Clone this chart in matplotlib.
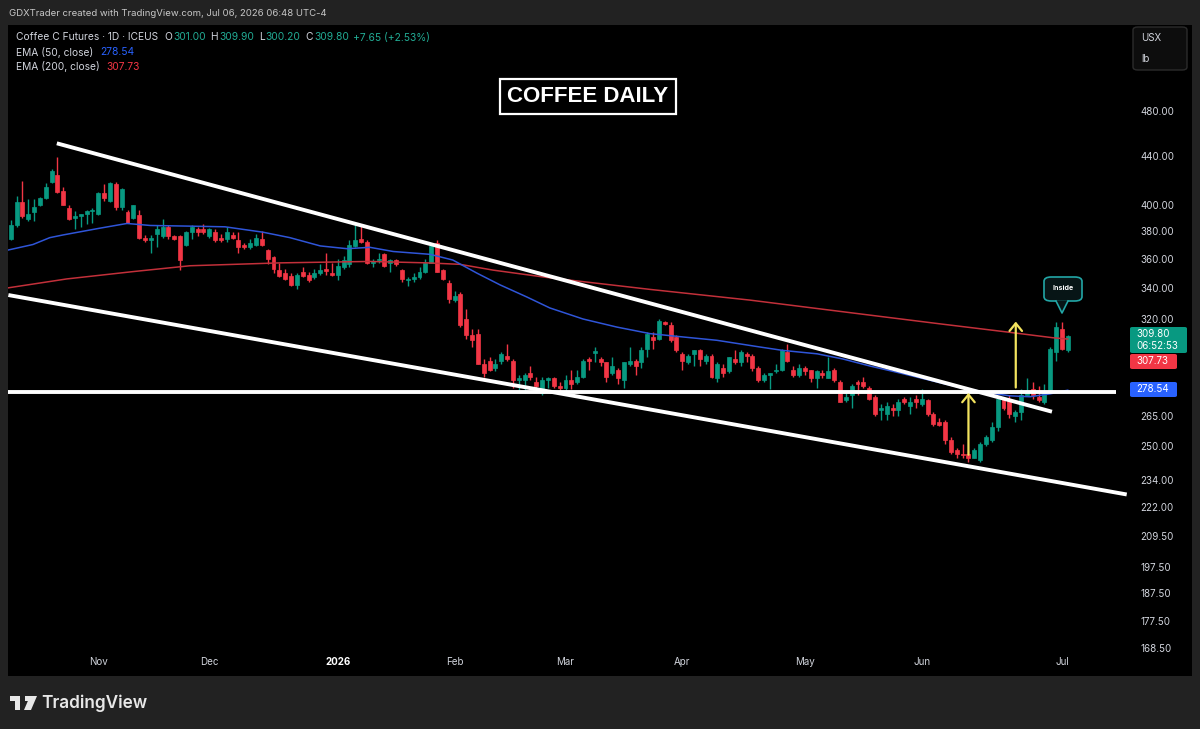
import matplotlib
matplotlib.use('Agg')
import matplotlib.pyplot as plt
from matplotlib.patches import FancyBboxPatch, Rectangle, Polygon
from matplotlib.lines import Line2D
import math

W, H = 1200, 729

# ---------------- data (Coffee C Futures, 1D) ----------------
opens = [374, 384, 402, 389, 394, 400, 405, 418, 424, 411, 397, 389.5, 391, 393, 395, 393, 409, 403, 416, 398,
         394, 390, 392, 375, 373, 378, 376, 383, 376, 376, 370, 379, 381, 381, 376, 379, 375, 374, 377, 373,
         370, 368, 370, 374, 366, 361, 352, 350, 348, 342, 351, 349, 347, 350, 352.5, 350, 349, 354, 356, 369,
         374, 372, 357, 359, 363, 357, 359, 352, 345, 346, 347, 351, 357, 371, 352, 343, 332, 336, 320, 310,
         311, 293, 295, 291, 295, 298, 295, 284, 284, 288, 283, 277, 284, 285, 281, 280, 284, 283, 286, 296,
         299.5, 296, 294, 288, 290, 284, 293, 295, 294, 302, 309, 308, 318, 316, 309, 299, 294, 299, 301, 295,
         298, 285, 291, 289, 296, 294, 299, 298, 291, 284, 287, 289, 290, 300, 290, 287, 291, 290, 285, 288,
         285, 290, 283, 273, 276, 283, 283, 280, 275, 268, 266, 269, 268, 274, 270, 274, 271, 273, 266, 262,
         262, 253, 248, 246, 246, 244, 243, 251, 253, 259, 274, 273, 265, 267, 276, 279, 275, 272, 278, 300,
         314, 301]
highs = [388, 407, 419, 404, 404, 406, 417, 429, 439, 414, 400, 395, 393, 396, 397, 410, 416, 418, 418, 413,
         396, 400, 396, 377, 377, 384, 389, 384, 377, 377, 380, 384, 383, 385, 382, 381, 378, 383, 379, 379,
         371, 374, 378, 380, 367, 362, 357, 353, 350, 350, 354, 351, 353, 356, 364, 357, 360, 362, 373, 385,
         384, 373, 360, 364, 364, 360, 360, 353, 347, 350, 354, 360, 371, 373, 353, 345, 338, 337, 326, 314,
         314, 296, 297, 296, 300, 305, 296, 287, 288, 292, 286, 286, 286, 286, 283, 287, 290, 290, 296, 297,
         303, 297, 294, 297, 291, 294, 303, 296, 303, 312, 312, 320, 319, 318, 310, 300, 299, 301, 302, 299,
         299, 294, 293, 297, 301, 301, 300, 299, 292, 288, 288, 293, 302, 305, 292, 293, 292, 290, 290, 290,
         297, 291, 284, 277, 282, 284, 286, 281, 276, 271, 272, 271, 274, 275, 275, 276, 279, 274, 267, 264,
         263, 254, 249, 251, 248, 249, 252, 255, 262, 275, 275, 276, 268, 279, 285, 283, 281, 282, 303, 318,
         318, 309.9]
lows = [373, 383, 390, 387, 387, 399, 404, 417, 409, 400, 388, 381, 383, 385, 386, 392, 403, 402, 396, 396,
        386, 389, 374, 372, 364, 368, 375, 374, 373, 352, 369, 374, 376, 378, 375, 372, 372, 372, 374, 364,
        367, 367, 369, 369, 356, 350, 347, 345, 341, 339, 347, 344, 346, 349, 349, 348, 345, 353, 354, 368,
        371, 356, 354, 357, 354, 351, 355, 344, 341, 344, 346, 350, 357, 351, 345, 330, 331, 315, 308, 303,
        293, 286, 289, 289, 293, 295, 280, 278, 277, 284, 280, 276, 280, 280, 277, 278, 279, 282, 285, 290,
        294, 292, 283, 287, 282, 280, 292, 287, 291, 297, 302, 307, 316, 306, 300, 290, 293, 292, 292, 293,
        285, 283, 286, 288, 293, 292, 294, 289, 283, 283, 279, 288, 289, 294, 286, 286, 287, 283, 280, 285,
        285, 283, 272, 272, 269, 276, 280, 273, 265, 263, 263, 265, 265, 271, 266, 269, 270, 265, 260, 260,
        251, 246, 244, 244, 242, 244, 242, 250, 252, 257, 268, 264, 262, 263, 276, 274, 272, 271, 277, 295,
        301, 300.2]
closes = [384, 402, 391, 393, 398, 405, 414, 427, 410, 400, 389, 391, 393, 395, 396, 409, 405, 417, 398, 412,
          386, 400, 375, 373, 375, 381, 383, 376, 374, 359, 379, 383, 379, 379, 381, 373, 373, 379, 375, 368,
          368, 371, 375, 370, 360, 353, 348, 346, 342, 349, 348, 345, 350, 352, 351.5, 349, 355, 359, 370, 373,
          372, 357, 358, 360, 355, 359, 356, 346, 346, 347, 351, 357, 369, 351, 346, 333, 335, 316, 310, 307,
          293, 288, 290, 293, 299, 296, 284, 285, 287, 286, 281, 284, 285, 281, 280, 284, 282, 286, 295, 295,
          300.5, 294, 286, 292, 285, 294, 295, 292, 301, 311, 307, 319, 317, 307, 301, 295, 298, 301, 296, 298,
          286, 293, 288, 297, 294, 300, 298, 291, 284, 287, 288, 290, 301, 295, 287, 291, 289, 285, 289, 287,
          289, 284, 272, 275, 281, 282, 281, 274, 266, 269, 270, 268, 272, 272, 272, 272, 274, 266, 261, 260.5,
          253, 247, 246, 245.5, 244, 248, 251, 254, 259, 274, 269, 266, 267, 276, 278, 276, 273, 278, 302, 315,
          302, 309.8]

ema50_idx = [-0.5, 3.8, 6.7, 9.0, 15.3, 19.9, 23.9, 30.7, 36.7, 43.2, 47.8, 53.0, 57.6, 61.5, 65.5, 71.8,
             75.7, 79.8, 83.8, 88.4, 92.3, 98.0, 103.8, 109.5, 115.1, 120.9, 128.3, 132.2, 138.1, 142.5,
             147.1, 152.3, 157.4, 162.5, 167.7, 171.1, 174.5, 177.9, 181]
ema50_val = [366, 370, 375, 377, 382, 385.5, 384, 383.5, 383, 379, 375, 369, 367, 368, 365, 363,
             359, 350, 342, 334, 327, 320, 315, 311, 309, 307, 303, 301, 299, 296,
             292, 288, 284, 280, 277, 275.5, 275, 276.5, 278.54]
ema200_idx = [-0.5, 9.6, 21.0, 30.7, 46.1, 61.5, 71.3, 76.9, 82.6, 91.8, 109.5, 126.6, 143.7, 159.1,
              170.6, 178.5, 181]
ema200_val = [340, 346, 351, 355, 357, 358, 357, 356, 352, 347, 339, 332, 324, 317, 312, 308.5, 307.73]

month_labels = ['Nov', 'Dec', '2026', 'Feb', 'Mar', 'Apr', 'May', 'Jun', 'Jul']
month_idx = [15, 34, 56, 76, 95, 115, 136, 156, 180]
price_ticks = [480, 440, 400, 380, 360, 340, 320, 265, 250, 234, 222, 209.5, 197.5, 187.5, 177.5, 168.5]

# drawings (bar index, price)
upper_trend = [(7.9, 450.7), (178.3, 267.1)]
lower_trend = [(-0.4, 335.3), (191.1, 227.3)]
support_line = [(-0.5, 277.7), (189.3, 277.7)]
arrows = [(164.0, 245.6, 277.1), (172.1, 280.0, 318.4)]

# ---------------- styling ----------------
BG = '#222222'
GREEN = '#089981'
RED = '#f23645'
TXT = '#d1d4dc'
FONT = 'Inter'

fig = plt.figure(figsize=(W / 100, H / 100), dpi=100, facecolor=BG)
renderer = fig.canvas.get_renderer()


def fx(x):
    return x / W


def fy(y):
    return 1 - y / H


# black chart panel (behind the axes)
fig.patches.append(Rectangle((fx(8), fy(676)), (1192 - 8) / W, (676 - 25) / H,
                             transform=fig.transFigure, facecolor='black', edgecolor='none', zorder=-5))

# main axes, pixel geometry
L, R, T, B = 8, 1125, 25, 650
ax = fig.add_axes([fx(L), fy(B), (R - L) / W, (B - T) / H])
ax.set_facecolor('none')
ax.set_yscale('log')
x0, dx = 10.7, 5.84
ax.set_xlim((L - x0) / dx, (R - x0) / dx)
ax.set_ylim(480 * math.exp(-(B - 111) / 513), 480 * math.exp((111 - T) / 513))
for s in ax.spines.values():
    s.set_visible(False)


def fit_size(s, target, family=FONT, weight='normal'):
    t = fig.text(0, 0, s, fontsize=10, family=family, weight=weight)
    w = t.get_window_extent(renderer).width
    t.remove()
    return 10 * target / w


tick_fs = fit_size('480.00', 34)

ax.yaxis.tick_right()
ax.set_yticks(price_ticks)
ax.set_yticklabels(['%.2f' % v for v in price_ticks])
ax.yaxis.set_minor_locator(matplotlib.ticker.NullLocator())
ax.yaxis.set_minor_formatter(matplotlib.ticker.NullFormatter())
ax.tick_params(axis='y', length=0, pad=11, labelsize=tick_fs, labelcolor=TXT)
for lab in ax.get_yticklabels():
    lab.set_family(FONT)

ax.set_xticks(month_idx)
ax.set_xticklabels(month_labels)
ax.tick_params(axis='x', length=0, pad=5, labelsize=tick_fs, labelcolor=TXT)
for lab in ax.get_xticklabels():
    lab.set_family(FONT)
    if lab.get_text() == '2026':
        lab.set_weight('bold')
        lab.set_color('white')

# candles
idx = list(range(len(closes)))
cols = [GREEN if c >= o else RED for o, c in zip(opens, closes)]
ax.vlines(idx, lows, highs, colors=cols, linewidth=1.0, zorder=2)
ax.bar(idx, [max(abs(c - o), 0.3) for o, c in zip(opens, closes)],
       bottom=[min(o, c) for o, c in zip(opens, closes)], width=0.68,
       color=cols, edgecolor=cols, linewidth=0.5, zorder=3)

# EMAs
ax.plot(ema200_idx, ema200_val, color='#c2303a', lw=1.1, zorder=4)
ax.plot(ema50_idx, ema50_val, color='#2f55d8', lw=1.1, zorder=4)

# drawings
for line in (upper_trend, lower_trend, support_line):
    ax.plot([p[0] for p in line], [p[1] for p in line], color='white', lw=2.8,
            solid_capstyle='butt', zorder=6, clip_on=False)
YEL = '#f3e35e'
for i, p0, p1 in arrows:
    ax.annotate('', xy=(i, p1), xytext=(i, p0),
                arrowprops=dict(arrowstyle='->,head_length=0.55,head_width=0.45', color=YEL, lw=1.6,
                                shrinkA=0, shrinkB=0), zorder=7)

# "Inside" callout (pixel geometry)
TEAL = '#22a6a6'
fig.patches.append(FancyBboxPatch((fx(1044), fy(301)), 38 / W, 24 / H,
                                  boxstyle='round,pad=0,rounding_size=0.006', transform=fig.transFigure,
                                  facecolor='#071516', edgecolor=TEAL, lw=1.2, zorder=8))
fig.patches.append(Polygon([(fx(1056), fy(300.3)), (fx(1068), fy(300.3)), (fx(1062), fy(313))],
                           closed=True, transform=fig.transFigure, facecolor='#071516', edgecolor='none', zorder=9))
fig.lines.append(Line2D([fx(1056), fx(1062), fx(1068)], [fy(301), fy(313), fy(301)],
                        transform=fig.transFigure, color=TEAL, lw=1.2, zorder=10))
fig.text(fx(1063), fy(288.5), 'Inside', color='white', fontsize=fit_size('Inside', 21, weight='bold'),
         family=FONT, weight='bold', ha='center', va='center', zorder=11)

# title box
fig.patches.append(Rectangle((fx(500), fy(114)), 176 / W, 35 / H, transform=fig.transFigure,
                             facecolor='black', edgecolor='white', lw=1.6, zorder=8))
fig.text(fx(588), fy(97), 'COFFEE DAILY', color='white',
         fontsize=fit_size('COFFEE DAILY', 161, family='Liberation Sans', weight='bold'),
         family='Liberation Sans', weight='bold', ha='center', va='center', zorder=9)

# header
hdr = 'GDXTrader created with TradingView.com, Jul 06, 2026 06:48 UTC-4'
fig.text(fx(9), fy(13), hdr, color='#c8c8c8', fontsize=fit_size(hdr, 318),
         family=FONT, ha='left', va='center')


def seq(x, y, parts, fs):
    cx = x
    for s, col, gap in parts:
        t = fig.text(fx(cx), fy(y), s, color=col, fontsize=fs, family=FONT, ha='left', va='center', zorder=12)
        cx += t.get_window_extent(renderer).width + gap


leg_fs = fit_size('Coffee C Futures · 1D · ICEUS', 143)
LG = '#22ab94'
seq(16, 37.5, [('Coffee C Futures · 1D · ICEUS', TXT, 6), ('O', TXT, 1), ('301.00', LG, 5),
               ('H', TXT, 1), ('309.90', LG, 5), ('L', TXT, 1), ('300.20', LG, 5),
               ('C', TXT, 1), ('309.80', LG, 4), ('+7.65 (+2.53%)', LG, 0)], leg_fs)
seq(16, 52, [('EMA (50, close)', TXT, 7), ('278.54', '#2962ff', 0)], leg_fs)
seq(16, 66.5, [('EMA (200, close)', TXT, 7), ('307.73', RED, 0)], leg_fs)

# USX / lb box
fig.patches.append(FancyBboxPatch((fx(1133), fy(70)), 54 / W, 43 / H,
                                  boxstyle='round,pad=0,rounding_size=0.004', transform=fig.transFigure,
                                  facecolor='#0d0d0d', edgecolor='#2c2c2c', lw=1, zorder=8))
fig.text(fx(1141), fy(38), 'USX', color=TXT, fontsize=tick_fs, family=FONT, va='center', zorder=9)
fig.text(fx(1141), fy(59), 'lb', color=TXT, fontsize=tick_fs, family=FONT, va='center', zorder=9)


# price labels on the scale
def plabel(y0, y1, x1, color, lines):
    fig.patches.append(FancyBboxPatch((fx(1130), fy(y1)), (x1 - 1130) / W, (y1 - y0) / H,
                                      boxstyle='round,pad=0,rounding_size=0.002', transform=fig.transFigure,
                                      facecolor=color, edgecolor='none', zorder=8))
    for s, yy in lines:
        fig.text(fx(1136), fy(yy), s, color='white', fontsize=tick_fs, family=FONT, va='center', zorder=9)


plabel(327, 353, 1187, GREEN, [('309.80', 334), ('06:52:53', 346)])
plabel(354, 369, 1177, RED, [('307.73', 361.5)])
plabel(382, 397, 1177, '#2962ff', [('278.54', 389.5)])

# TradingView logo
LOGO = '#e8e8e8'
fig.patches.append(Rectangle((fx(10), fy(701)), 10 / W, 5 / H, transform=fig.transFigure,
                             facecolor=LOGO, edgecolor='none'))
fig.patches.append(Rectangle((fx(15), fy(710)), 5 / W, 14 / H, transform=fig.transFigure,
                             facecolor=LOGO, edgecolor='none'))
fig.patches.append(Polygon([(fx(25), fy(696)), (fx(30), fy(696)), (fx(30), fy(701)), (fx(25), fy(701))],
                           transform=fig.transFigure, facecolor=LOGO, edgecolor='none'))
fig.patches.append(Polygon([(fx(30), fy(696)), (fx(37), fy(696)), (fx(31), fy(710)), (fx(24), fy(710))],
                           transform=fig.transFigure, facecolor=LOGO, edgecolor='none'))
fig.text(fx(41), fy(703), 'TradingView', color=LOGO,
         fontsize=fit_size('TradingView', 106, weight='semibold'), family=FONT, weight='semibold',
         ha='left', va='center')

fig.savefig('out.png', dpi=100, facecolor=BG)
